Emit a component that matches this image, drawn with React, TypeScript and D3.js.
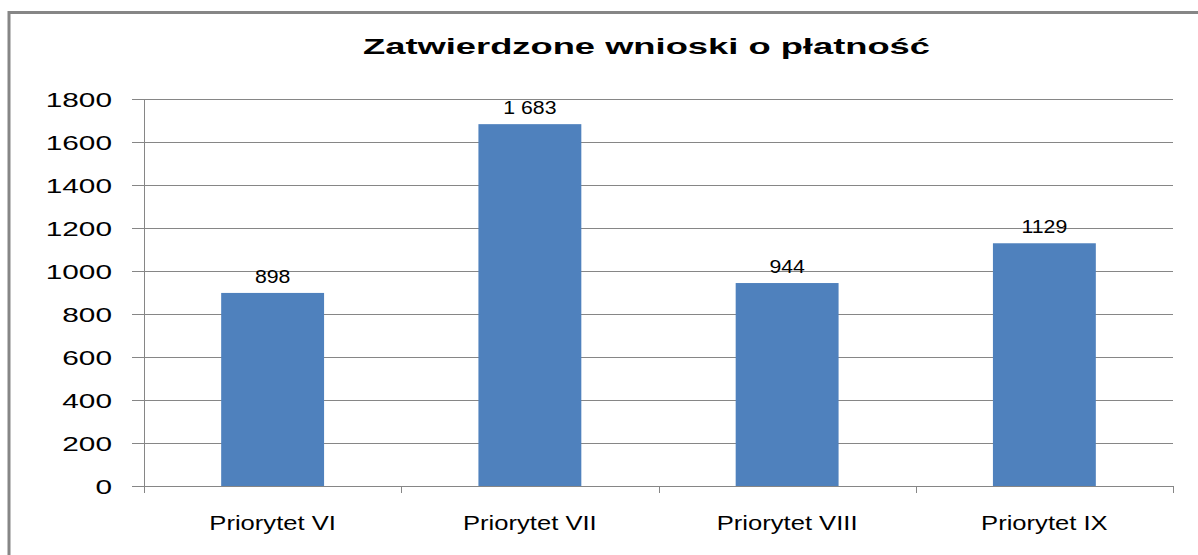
import { useEffect, useRef } from "react"
import * as d3 from "d3"

const categories = ["Priorytet VI", "Priorytet VII", "Priorytet VIII", "Priorytet IX"]
const values = [898, 1683, 944, 1129]
const valueLabels = ["898", "1 683", "944", "1129"]
const yTicks = [0, 200, 400, 600, 800, 1000, 1200, 1400, 1600, 1800]
const title = "Zatwierdzone wnioski o płatność"

export default function App() {
  const svgRef = useRef<SVGSVGElement>(null)

  useEffect(() => {
    if (!svgRef.current) return
    document.body.style.margin = "0"

    const svg = d3.select(svgRef.current)
    svg.selectAll("*").remove()

    const width = 1198
    const height = 555
    const margin = { top: 99, right: 25, bottom: 69, left: 144 }
    const font = "'Liberation Sans', Arial, sans-serif"
    const gray = "#868686"

    svg.attr("width", width).attr("height", height)

    // outer frame
    svg
      .append("rect")
      .attr("x", 9)
      .attr("y", 12.5)
      .attr("width", 1200)
      .attr("height", 560)
      .attr("fill", "white")
      .attr("stroke", gray)
      .attr("stroke-width", 3)

    // title (stretched like the original)
    svg
      .append("text")
      .attr("x", 363)
      .attr("y", 54)
      .attr("font-family", font)
      .attr("font-weight", "bold")
      .attr("font-size", 22)
      .attr("textLength", 567)
      .attr("lengthAdjust", "spacingAndGlyphs")
      .attr("fill", "#000")
      .text(title)

    const x = d3
      .scaleBand()
      .domain(categories)
      .range([margin.left, width - margin.right])
      .paddingInner(0.6)
      .paddingOuter(0.3)

    const xCat = d3
      .scaleBand()
      .domain(categories)
      .range([margin.left, width - margin.right])

    const y = d3
      .scaleLinear()
      .domain([0, 1800])
      .range([height - margin.bottom, margin.top])

    const plotRight = width - margin.right

    // gridlines + ticks
    const grid = svg.append("g")
    grid
      .selectAll("line")
      .data(yTicks)
      .enter()
      .append("line")
      .attr("x1", margin.left - 12)
      .attr("x2", plotRight)
      .attr("y1", (d) => Math.round(y(d)) + 0.5)
      .attr("y2", (d) => Math.round(y(d)) + 0.5)
      .attr("stroke", gray)
      .attr("stroke-width", 1)

    // y labels
    svg
      .append("g")
      .selectAll("text")
      .data(yTicks)
      .enter()
      .append("text")
      .attr("transform", (d) => `translate(112,${Math.round(y(d)) + 8}) scale(1.42,1)`)
      .attr("text-anchor", "end")
      .attr("font-family", font)
      .attr("font-size", 21)
      .attr("fill", "#000")
      .text((d) => String(d))

    // vertical axis
    svg
      .append("line")
      .attr("x1", margin.left + 0.5)
      .attr("x2", margin.left + 0.5)
      .attr("y1", y(1800))
      .attr("y2", y(0) + 7)
      .attr("stroke", gray)
      .attr("stroke-width", 1)

    // category ticks
    const boundaries = categories.map((c) => (xCat(c) as number) + xCat.bandwidth())
    svg
      .append("g")
      .selectAll("line")
      .data(boundaries)
      .enter()
      .append("line")
      .attr("x1", (d) => Math.round(d) + 0.5)
      .attr("x2", (d) => Math.round(d) + 0.5)
      .attr("y1", y(0))
      .attr("y2", y(0) + 7)
      .attr("stroke", gray)
      .attr("stroke-width", 1)

    // bars
    svg
      .append("g")
      .selectAll("rect")
      .data(values)
      .enter()
      .append("rect")
      .attr("x", (d, i) => x(categories[i]) as number)
      .attr("y", (d) => y(d))
      .attr("width", x.bandwidth())
      .attr("height", (d) => y(0) - y(d))
      .attr("fill", "#4F81BD")

    // value labels
    svg
      .append("g")
      .selectAll("text")
      .data(values)
      .enter()
      .append("text")
      .attr(
        "transform",
        (d, i) =>
          `translate(${(x(categories[i]) as number) + x.bandwidth() / 2},${y(d) - 10}) scale(1.12,1)`
      )
      .attr("text-anchor", "middle")
      .attr("font-family", font)
      .attr("font-size", 19)
      .attr("fill", "#000")
      .text((d, i) => valueLabels[i])

    // category labels
    svg
      .append("g")
      .selectAll("text")
      .data(categories)
      .enter()
      .append("text")
      .attr(
        "transform",
        (d) => `translate(${(xCat(d) as number) + xCat.bandwidth() / 2},530) scale(1.28,1)`
      )
      .attr("text-anchor", "middle")
      .attr("font-family", font)
      .attr("font-size", 20)
      .attr("fill", "#000")
      .text((d) => d)
  }, [])

  return <svg ref={svgRef} style={{ display: "block" }} />
}
